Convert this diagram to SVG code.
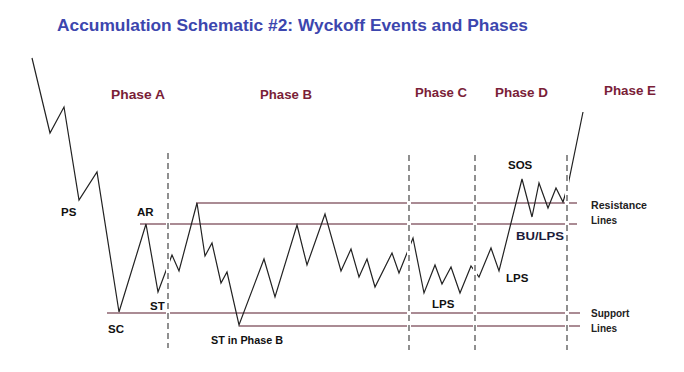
<svg xmlns="http://www.w3.org/2000/svg" width="684" height="372" viewBox="0 0 684 372">
<style>
.title{font-family:"Liberation Sans",Arial,sans-serif;font-weight:bold;font-size:17px;fill:#3C46AE}
.phase{font-family:"Liberation Sans",Arial,sans-serif;font-weight:bold;font-size:12.5px;fill:#7A1E38}
.lbl{font-family:"Liberation Sans",Arial,sans-serif;font-weight:bold;font-size:11.5px;fill:#111}
.sm{font-family:"Liberation Sans",Arial,sans-serif;font-weight:bold;font-size:10px;fill:#222}
.hl{stroke:#8E6470;stroke-width:1.3;fill:none}
.gap{stroke:#fff;stroke-width:4;fill:none}
.dash{stroke:#555;stroke-width:1.3;stroke-dasharray:6 4;fill:none}
.price{stroke:#222;stroke-width:1.2;fill:none;stroke-linejoin:miter}
</style>
<rect width="684" height="372" fill="#fff"/>
<text class="title" x="57" y="31" textLength="471" lengthAdjust="spacingAndGlyphs">Accumulation Schematic #2: Wyckoff Events and Phases</text>
<g id="phases">
<text class="phase" x="111" y="99" textLength="54" lengthAdjust="spacingAndGlyphs">Phase A</text>
<text class="phase" x="260" y="99" textLength="52" lengthAdjust="spacingAndGlyphs">Phase B</text>
<text class="phase" x="415" y="97" textLength="52" lengthAdjust="spacingAndGlyphs">Phase C</text>
<text class="phase" x="495" y="97" textLength="53" lengthAdjust="spacingAndGlyphs">Phase D</text>
<text class="phase" x="604" y="95" textLength="52" lengthAdjust="spacingAndGlyphs">Phase E</text>
</g>
<g id="levels">
<line class="hl" x1="196" y1="203" x2="577" y2="203"/>
<line class="hl" x1="140" y1="224" x2="577" y2="224"/>
<line class="hl" x1="107" y1="313" x2="580" y2="313"/>
<line class="hl" x1="239" y1="326" x2="580" y2="326"/>
</g>
<g id="price">
<polyline class="price" points="32,58 50,133 64,107 79,200 97,172 119,312 146,224 158,292 167,268 172,255 179,271 197,203 205,256 212,243 221,283 227,272 239,325 264,259 275,297 297,225 307,265 325,214 341,271 351,249 359,277 367,259 375,287 392,253 399,273 413,238 424,293 435,265 442,284 451,267 460,293 471,266 479,277 491,248 499,271 522,179 532,217 539,183 548,208 556,188 563,202 568,185 583,112"/>
</g>
<g id="dividers">
<line class="gap" x1="168" y1="153" x2="168" y2="348"/>
<line class="gap" x1="409" y1="155" x2="409" y2="350"/>
<line class="gap" x1="475" y1="155" x2="475" y2="350"/>
<line class="gap" x1="567" y1="155" x2="567" y2="350"/>
<line class="dash" x1="168" y1="153" x2="168" y2="348"/>
<line class="dash" x1="409" y1="155" x2="409" y2="350"/>
<line class="dash" x1="475" y1="155" x2="475" y2="350"/>
<line class="dash" x1="567" y1="155" x2="567" y2="350"/>
</g>
<g id="labels">
<text class="lbl" x="61" y="216">PS</text>
<text class="lbl" x="137" y="216">AR</text>
<text class="lbl" x="150" y="310">ST</text>
<text class="lbl" x="108" y="333">SC</text>
<text class="lbl" x="211" y="344" textLength="72" lengthAdjust="spacingAndGlyphs">ST in Phase B</text>
<text class="lbl" x="432" y="308">LPS</text>
<text class="lbl" x="506" y="282">LPS</text>
<text class="lbl" x="516" y="240" style="fill:#1C1C3A" textLength="48" lengthAdjust="spacingAndGlyphs">BU/LPS</text>
<text class="lbl" x="508" y="169">SOS</text>
<text class="sm" x="591" y="209" textLength="56" lengthAdjust="spacingAndGlyphs">Resistance</text>
<text class="sm" x="591" y="224">Lines</text>
<text class="sm" x="591" y="317">Support</text>
<text class="sm" x="591" y="332">Lines</text>
</g>
</svg>
